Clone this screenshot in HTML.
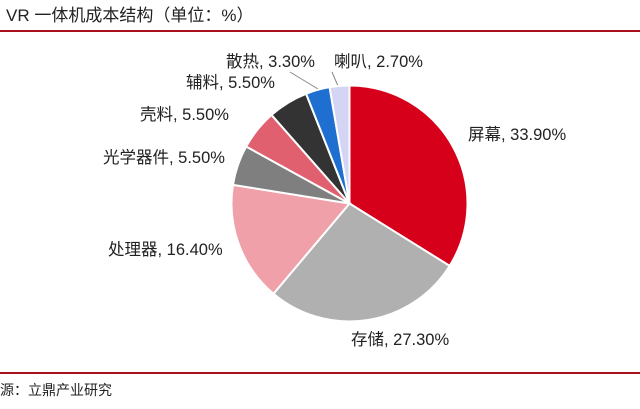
<!DOCTYPE html>
<html><head><meta charset="utf-8"><style>
body{margin:0;width:640px;height:409px;background:#fff;overflow:hidden;font-family:"Liberation Sans","Noto Sans CJK SC",sans-serif;}
.t{position:absolute;white-space:nowrap;color:#222;font-size:16.5px;line-height:18px}
</style></head><body>
<div class="t" style="left:6px;top:7px;font-size:17px;">VR 一体机成本结构（单位：%）</div>
<div style="position:absolute;left:0;top:30px;width:640px;height:2px;background:#a8101c"></div>
<div style="position:absolute;left:0;top:372px;width:640px;height:2px;background:#a8101c"></div>
<div class="t" style="left:0;top:381px;font-size:14px;">源：立鼎产业研究</div>
<svg id="s" width="640" height="409" style="position:absolute;left:0;top:0">
<line x1="290" y1="72" x2="318" y2="89" stroke="#888" stroke-width="1"/>
<line x1="332" y1="72" x2="338" y2="86" stroke="#888" stroke-width="1"/>
</svg>
<div class="t" style="left:468px;top:126px;">屏幕, 33.90%</div>
<div class="t" style="left:351px;top:331px;">存储, 27.30%</div>
<div class="t" style="left:108px;top:241px;">处理器, 16.40%</div>
<div class="t" style="left:103px;top:149px;">光学器件, 5.50%</div>
<div class="t" style="left:140px;top:106px;">壳料, 5.50%</div>
<div class="t" style="left:186px;top:74px;">辅料, 5.50%</div>
<div class="t" style="left:226px;top:53px;">散热, 3.30%</div>
<div class="t" style="left:334px;top:53px;">喇叭, 2.70%</div>
<script>
var d=[[33.9,"#d7001b"],[27.3,"#b0b0b0"],[16.4,"#f0a0a8"],[5.5,"#7f7f7f"],[5.5,"#e06070"],[5.5,"#333333"],[3.3,"#1f6fd0"],[2.7,"#d4d4f4"]];
var cx=349.5,cy=203.5,r=118,tot=100.1,a=0,s=document.getElementById('s'),h='';
d.forEach(function(e){var a1=a+e[0]/tot*2*Math.PI;
var x0=cx+r*Math.sin(a),y0=cy-r*Math.cos(a),x1=cx+r*Math.sin(a1),y1=cy-r*Math.cos(a1);
h+='<path d="M'+cx+','+cy+'L'+x0+','+y0+'A'+r+','+r+' 0 '+(a1-a>Math.PI?1:0)+' 1 '+x1+','+y1+'Z" fill="'+e[1]+'" stroke="#fff" stroke-width="2"/>';a=a1;});
s.innerHTML+=h;
</script>
</body></html>
